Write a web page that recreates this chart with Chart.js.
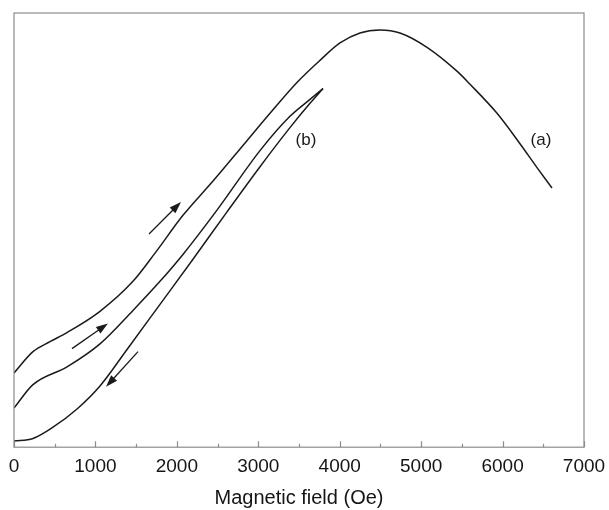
<!DOCTYPE html>
<html>
<head>
<meta charset="utf-8">
<script src="https://cdn.jsdelivr.net/npm/chart.js@4.4.1/dist/chart.umd.min.js"></script>
<style>
  html, body { margin: 0; padding: 0; background: #fff; }
  #wrap { width: 609px; height: 510px; }
</style>
</head>
<body>
<div id="wrap"><canvas id="field-chart" width="609" height="510"></canvas></div>
<script>
// curve (a): signal vs field, single sweep
const fieldA  = [0, 233, 442, 651, 1056, 1461, 1732, 2075, 2444, 2861, 3144, 3475, 3758, 4003, 4249, 4495, 4740, 5072, 5440, 5600, 5932, 6214, 6423, 6607];
const signalA = [17.1, 22.0, 24.3, 26.4, 31.3, 38.2, 44.7, 53.4, 61.3, 70.6, 76.9, 84.0, 89.1, 93.1, 95.4, 96.1, 95.4, 92.1, 86.6, 83.6, 76.9, 69.9, 64.4, 59.7];

// curve (b): increasing field branch
const fieldUp  = [0, 233, 651, 1056, 1461, 1793, 2075, 2493, 3021, 3389, 3635, 3795];
const signalUp = [9.0, 14.4, 18.5, 23.8, 31.5, 38.2, 44.4, 54.6, 68.3, 76.2, 80.1, 82.6];

// curve (b): decreasing field branch
const fieldDown  = [0, 233, 479, 774, 1056, 1388, 1793, 2198, 2616, 3021, 3389, 3635, 3795];
const signalDown = [1.4, 2.0, 4.6, 8.8, 14.1, 22.5, 32.9, 43.3, 54.2, 64.6, 73.6, 79.2, 82.6];

const xTicks = [0, 1000, 2000, 3000, 4000, 5000, 6000, 7000];

// sweep direction arrows [x0, y0, x1, y1], head at the second point
const arrows = [
  [1658, 49.1, 2051, 56.5],
  [712, 22.7, 1154, 28.5],
  [1523, 22.0, 1130, 13.9]
];

const curveLabels = [
  { text: '(a)', x: 6472, y: 70.6 },
  { text: '(b)', x: 3586, y: 70.6 }
];

const FONT = "Arial, 'Liberation Sans', Helvetica, sans-serif";

function pts(xs, ys) {
  return xs.map((x, i) => ({ x: x, y: ys[i] }));
}

function curve(xs, ys) {
  return {
    data: pts(xs, ys),
    showLine: true,
    borderColor: '#1b1b1b',
    borderWidth: 1.5,
    pointRadius: 0,
    cubicInterpolationMode: 'monotone',
    fill: false
  };
}

// box, inward ticks, arrows and curve labels
const decorations = {
  id: 'decorations',
  afterDatasetsDraw(chart) {
    const ctx = chart.ctx;
    const a = chart.chartArea;
    const xs = chart.scales.x;
    const ys = chart.scales.y;
    ctx.save();

    ctx.strokeStyle = '#8c8c8c';
    ctx.lineWidth = 1.2;
    ctx.strokeRect(a.left, a.top, a.right - a.left, a.bottom - a.top);

    ctx.beginPath();
    for (let v = 0; v <= 7000; v += 500) {
      const px = Math.round(xs.getPixelForValue(v)) + 0.5;
      const len = v % 1000 === 0 ? 6 : 3.5;
      ctx.moveTo(px, a.bottom);
      ctx.lineTo(px, a.bottom - len);
    }
    ctx.stroke();

    ctx.strokeStyle = '#1b1b1b';
    ctx.fillStyle = '#1b1b1b';
    ctx.lineWidth = 1.3;
    arrows.forEach(([x0, y0, x1, y1]) => {
      const p0x = xs.getPixelForValue(x0), p0y = ys.getPixelForValue(y0);
      const p1x = xs.getPixelForValue(x1), p1y = ys.getPixelForValue(y1);
      const ang = Math.atan2(p1y - p0y, p1x - p0x);
      const hl = 12, hw = 4;
      ctx.beginPath();
      ctx.moveTo(p0x, p0y);
      ctx.lineTo(p1x - Math.cos(ang) * hl * 0.8, p1y - Math.sin(ang) * hl * 0.8);
      ctx.stroke();
      ctx.beginPath();
      ctx.moveTo(p1x, p1y);
      ctx.lineTo(p1x - Math.cos(ang) * hl - Math.sin(ang) * hw, p1y - Math.sin(ang) * hl + Math.cos(ang) * hw);
      ctx.lineTo(p1x - Math.cos(ang) * hl + Math.sin(ang) * hw, p1y - Math.sin(ang) * hl - Math.cos(ang) * hw);
      ctx.closePath();
      ctx.fill();
    });

    ctx.fillStyle = '#1a1a1a';
    ctx.font = '17px ' + FONT;
    ctx.textAlign = 'center';
    ctx.textBaseline = 'middle';
    curveLabels.forEach(l => {
      ctx.fillText(l.text, xs.getPixelForValue(l.x), ys.getPixelForValue(l.y));
    });
    ctx.restore();
  }
};

const ctx = document.getElementById('field-chart').getContext('2d');

const fieldChart = new Chart(ctx, {
  type: 'scatter',
  data: {
    datasets: [
      curve(fieldA, signalA),
      curve(fieldUp, signalUp),
      curve(fieldDown, signalDown)
    ]
  },
  options: {
    responsive: false,
    animation: false,
    layout: { padding: { left: 14, right: 25, top: 13, bottom: 0 } },
    plugins: {
      legend: { display: false },
      tooltip: { enabled: false }
    },
    scales: {
      x: {
        type: 'linear',
        min: 0,
        max: 7000,
        afterBuildTicks: axis => { axis.ticks = xTicks.map(v => ({ value: v })); },
        // edge labels may hang past the box, as in the printed figure
        afterFit: axis => { axis.paddingLeft = 0; axis.paddingRight = 0; },
        grid: { display: false, drawTicks: false },
        border: { display: false },
        ticks: {
          color: '#151515',
          padding: 8,
          maxRotation: 0,
          font: { family: FONT, size: 19 },
          callback: v => String(v)
        },
        title: {
          display: true,
          text: 'Magnetic field (Oe)',
          color: '#151515',
          padding: { top: 0, bottom: 0 },
          font: { family: FONT, size: 20 }
        }
      },
      y: {
        type: 'linear',
        min: 0,
        max: 100,
        display: false
      }
    }
  },
  plugins: [decorations]
});
</script>
</body>
</html>
